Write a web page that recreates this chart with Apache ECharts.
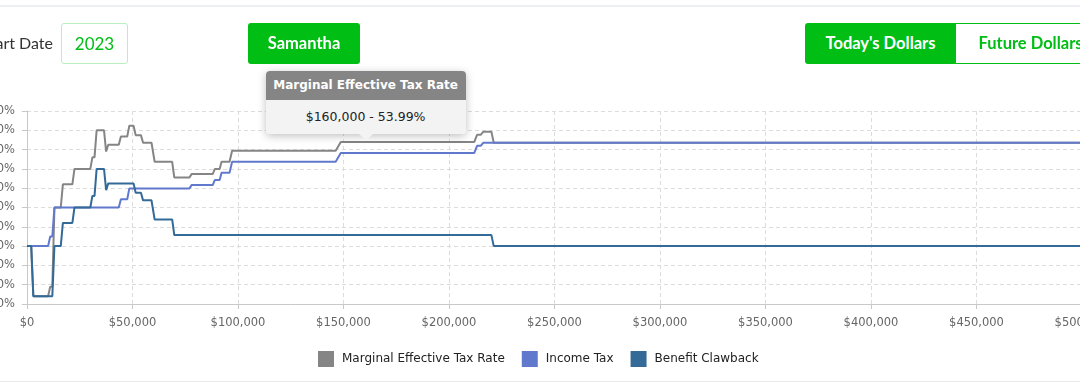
<!DOCTYPE html>
<html>
<head>
<meta charset="utf-8">
<script src="https://cdn.jsdelivr.net/npm/echarts@6/dist/echarts.min.js"></script>
<style>
  html, body { margin:0; padding:0; width:1080px; height:389px; overflow:hidden; background:#fff; }
  #topline { position:absolute; left:0; top:5px; width:1080px; height:2px; background:#eceff4; }
  #botline { position:absolute; left:0; top:381px; width:1080px; height:1px; background:#ececec; }
  .ui { position:absolute; font-family:Lato, "Open Sans", sans-serif; box-sizing:border-box; }
  #startlbl { left:-120px; width:173px; top:33px; line-height:20px; font-size:16px; color:#333; text-align:right; }
  #year { left:61px; top:23px; width:67px; height:41px; border:1px solid #b8eec0; border-radius:3px; color:#00be14; font-size:17px; line-height:39px; text-align:center; }
  #person { left:248px; top:23px; width:112px; height:41px; background:#00be14; border-radius:3px; color:#fff; font-size:16.5px; font-weight:bold; line-height:41px; text-align:center; }
  #today { left:805px; top:23px; width:151px; height:41px; background:#00be14; border-radius:3px 0 0 3px; color:#fff; font-size:16.5px; font-weight:bold; line-height:41px; text-align:center; }
  #future { left:956px; top:23px; width:150px; height:41px; border:1.5px solid #00be14; border-left:none; color:#00be14; font-size:16.5px; font-weight:bold; line-height:38px; text-align:center; }
  #chart { position:absolute; left:0; top:0; width:1120px; height:389px; }
  #tip { position:absolute; width:200px; font-family:"DejaVu Sans", sans-serif; font-size:12px; border-radius:4px; box-shadow:0 2px 8px rgba(0,0,0,0.25); z-index:10; }
  #tip .hd { background:#858585; color:#fff; font-weight:bold; height:29px; line-height:29px; text-align:center; border-radius:4px 4px 0 0; font-size:12px; }
  #tip .bd { background:#f3f3f3; color:#222; height:34px; line-height:34px; text-align:center; border-radius:0 0 4px 4px; font-size:12.5px; }
  #tip .ar { position:absolute; left:93px; bottom:-6px; width:0; height:0; border-left:7px solid transparent; border-right:7px solid transparent; border-top:6px solid #f3f3f3; }
</style>
</head>
<body>
<div id="topline"></div>
<div id="chart"></div>
<div id="startlbl" class="ui">Start Date</div>
<div id="year" class="ui">2023</div>
<div id="person" class="ui">Samantha</div>
<div id="today" class="ui">Today's Dollars</div>
<div id="future" class="ui">Future Dollars</div>
<div id="tip"><div class="hd"></div><div class="bd"></div><div class="ar"></div></div>
<div id="botline"></div>
<script>
// ---- data (income in $, rates in %) ----
const seriesNames = ['Marginal Effective Tax Rate', 'Income Tax', 'Benefit Clawback'];
const income = [0, 2000, 3000, 10000, 11000, 12000, 13000, 16000, 17000, 21500, 22500, 30000, 31000, 32000, 33000,
  36500, 37500, 38500, 43500, 44500, 47500, 48500, 50500, 51500, 54000, 55000, 59000, 60500, 68800, 69800,
  77000, 78000, 88000, 89000, 91300, 92200, 96000, 97200, 146300, 148700, 160000, 212000, 213300, 215000,
  216200, 220100, 221200, 500000];
const incomeTax = [0, 0, 0, 0, 5, 5, 20, 20, 20, 20, 20, 20, 20, 20, 20,
  20, 20, 20, 20, 24.3, 24.3, 29.9, 29.9, 29.9, 29.9, 29.9, 29.9, 29.9, 29.9, 29.9,
  29.9, 31.6, 31.6, 34.2, 34.2, 38.0, 38.0, 43.7, 43.7, 48.29, 48.29, 48.29, 51.97, 51.97,
  53.53, 53.53, 53.53, 53.53];
const benefitClawback = [0, 0, -26, -26, -26, -26, 0, 0, 12, 12, 20, 20, 26, 26, 40,
  40, 29, 32.5, 32.5, 32.5, 32.5, 32.5, 32.5, 27.6, 27.6, 23.7, 23.7, 13.8, 13.8, 5.7,
  5.7, 5.7, 5.7, 5.7, 5.7, 5.7, 5.7, 5.7, 5.7, 5.7, 5.7, 5.7, 5.7, 5.7,
  5.7, 5.7, 0, 0];
const marginalRate = [0, 0, -26, -26, -21, -21, 20, 20, 32, 32, 40, 40, 46, 46, 60,
  60, 49, 52.5, 52.5, 56.8, 56.8, 62.4, 62.4, 57.5, 57.5, 53.6, 53.6, 43.7, 43.7, 35.6,
  35.6, 37.3, 37.3, 39.9, 39.9, 43.7, 43.7, 49.4, 49.4, 53.99, 53.99, 53.99, 57.67, 57.67,
  59.23, 59.23, 53.53, 53.53];
const xTicks = { min: 0, max: 500000, step: 50000 };
const yTicks = { min: -30, max: 70, step: 10 };
const tipIncome = 160000;
const tipRate = 53.99;

const colors = ['#858585', '#6179cc', '#336a97'];
const pairs = arr => income.map((x, i) => [x, arr[i]]);
const fmtMoney = v => '$' + Math.round(v).toLocaleString('en-US');

const chart = echarts.init(document.getElementById('chart'), null, { renderer: 'canvas' });
const font = 'DejaVu Sans';
chart.setOption({
  animation: false,
  color: colors,
  grid: { left: 27, top: 111, width: 1055, height: 193, containLabel: false, outerBoundsMode: 'none' },
  legend: {
    data: seriesNames, top: 346, left: 313, icon: 'rect', itemWidth: 16, itemHeight: 16, itemGap: 17,
    textStyle: { fontFamily: font, fontSize: 12, color: '#222', padding: [0, 0, 0, 3] }
  },
  xAxis: {
    type: 'value', min: xTicks.min, max: xTicks.max, interval: xTicks.step,
    axisLine: { show: true, onZero: false, lineStyle: { color: '#c8c8c8' } },
    axisTick: { show: true, length: 5, lineStyle: { color: '#c8c8c8' } },
    axisLabel: { formatter: v => fmtMoney(v), fontFamily: font, fontSize: 11.5, color: '#666', margin: 13 },
    splitLine: { show: true, lineStyle: { type: [4, 3], color: '#dcdcdc' } }
  },
  yAxis: {
    type: 'value', min: yTicks.min, max: yTicks.max, interval: yTicks.step,
    axisLine: { show: true, onZero: false, lineStyle: { color: '#c8c8c8' } },
    axisTick: { show: true, length: 5, lineStyle: { color: '#c8c8c8' } },
    axisLabel: { formatter: '{value}%', fontFamily: font, fontSize: 11.5, color: '#666', margin: 12 },
    splitLine: { show: true, lineStyle: { type: [4, 3], color: '#dcdcdc' } }
  },
  series: [
    { name: seriesNames[0], type: 'line', data: pairs(marginalRate), showSymbol: false, lineStyle: { width: 2 } },
    { name: seriesNames[1], type: 'line', data: pairs(incomeTax), showSymbol: false, lineStyle: { width: 2 } },
    { name: seriesNames[2], type: 'line', data: pairs(benefitClawback), showSymbol: false, lineStyle: { width: 2 } }
  ]
});

// tooltip box anchored to the data point through the chart's own scales
const pt = chart.convertToPixel({ gridIndex: 0 }, [tipIncome, tipRate]);
const tip = document.getElementById('tip');
tip.querySelector('.hd').textContent = seriesNames[0];
tip.querySelector('.bd').textContent = fmtMoney(tipIncome) + ' - ' + tipRate.toFixed(2) + '%';
tip.style.left = (pt[0] - 99) + 'px';
tip.style.top = (pt[1] - 8 - 63) + 'px';
</script>
</body>
</html>
